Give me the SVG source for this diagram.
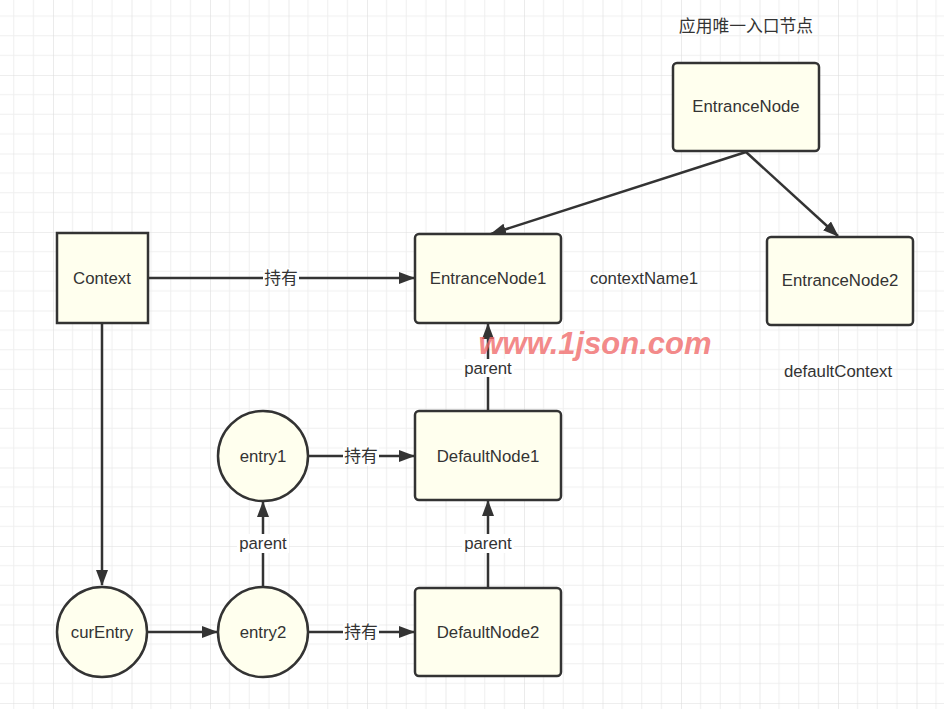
<svg xmlns="http://www.w3.org/2000/svg" width="944" height="709" viewBox="0 0 944 709">
<style>
.node{fill:#ffffee;stroke:#333;stroke-width:2.5}
.t{font-family:"Liberation Sans",Arial,"Noto Sans CJK SC",sans-serif;font-size:16.8px;fill:#333;text-anchor:middle;dominant-baseline:central}
.c{stroke:#333;stroke-width:2.5;fill:none}
.lb{fill:#fff}
.wm{font-family:"Liberation Sans",Arial,sans-serif;font-size:31px;font-weight:bold;font-style:italic;fill:#f06a6a;fill-opacity:0.8;text-anchor:middle;dominant-baseline:central}
</style>
<defs>
<pattern id="grid" x="-25.5" y="-3.5" width="78.5" height="78.5" patternUnits="userSpaceOnUse">
<path d="M19.6 0V78.5M39.25 0V78.5M58.9 0V78.5M0 19.6H78.5M0 39.25H78.5M0 58.9H78.5" stroke="#efefef" stroke-width="1"/>
<path d="M0 0V78.5M0 0H78.5" stroke="#dedede" stroke-width="1.2"/>
</pattern>
<marker id="arr" viewBox="0 0 16 12" refX="15" refY="6" markerWidth="16" markerHeight="12" markerUnits="userSpaceOnUse" orient="auto">
<path d="M0 0L16 6L0 12Z" fill="#333"/>
</marker>
</defs>
<rect width="944" height="709" fill="#fff"/>
<rect width="944" height="709" fill="url(#grid)"/>

<g id="connectors">
<path class="c" d="M746 152L491 234" marker-end="url(#arr)"/>
<path class="c" d="M746 152L838 236" marker-end="url(#arr)"/>
<path class="c" d="M148 278H414" marker-end="url(#arr)"/>
<path class="c" d="M102 324V585" marker-end="url(#arr)"/>
<path class="c" d="M147 632H217" marker-end="url(#arr)"/>
<path class="c" d="M308 632H414" marker-end="url(#arr)"/>
<path class="c" d="M308 456H414" marker-end="url(#arr)"/>
<path class="c" d="M263 586V502" marker-end="url(#arr)"/>
<path class="c" d="M488 588V501" marker-end="url(#arr)"/>
<path class="c" d="M488 411V324" marker-end="url(#arr)"/>
<rect class="lb" x="263" y="268" width="36" height="20"/>
<text class="t" x="281" y="278">持有</text>
<rect class="lb" x="343" y="622" width="36" height="20"/>
<text class="t" x="361" y="632">持有</text>
<rect class="lb" x="343" y="446" width="36" height="20"/>
<text class="t" x="361" y="456">持有</text>
<rect class="lb" x="237" y="534" width="52" height="19"/>
<text class="t" x="263" y="543">parent</text>
<rect class="lb" x="462" y="534" width="52" height="19"/>
<text class="t" x="488" y="543">parent</text>
<rect class="lb" x="462" y="359" width="52" height="18"/>
<text class="t" x="488" y="368">parent</text>
</g>

<g id="EntranceNode"><rect class="node" x="673" y="63" width="146" height="88" rx="4"/><text class="t" x="746" y="106">EntranceNode</text></g>
<g id="Context"><rect class="node" x="57" y="233" width="91" height="90"/><text class="t" x="102" y="278">Context</text></g>
<g id="EntranceNode1"><rect class="node" x="415" y="234" width="146" height="89" rx="4"/><text class="t" x="488" y="278">EntranceNode1</text></g>
<g id="EntranceNode2"><rect class="node" x="767" y="237" width="146" height="88" rx="4"/><text class="t" x="840" y="280">EntranceNode2</text></g>
<g id="DefaultNode1"><rect class="node" x="415" y="411" width="146" height="89" rx="4"/><text class="t" x="488" y="456">DefaultNode1</text></g>
<g id="DefaultNode2"><rect class="node" x="415" y="588" width="146" height="88" rx="4"/><text class="t" x="488" y="632">DefaultNode2</text></g>
<g id="entry1"><circle class="node" cx="263" cy="456" r="45"/><text class="t" x="263" y="456">entry1</text></g>
<g id="curEntry"><circle class="node" cx="102" cy="632" r="45"/><text class="t" x="102" y="632">curEntry</text></g>
<g id="entry2"><circle class="node" cx="263" cy="632" r="45"/><text class="t" x="263" y="632">entry2</text></g>

<text class="t" x="746" y="26">应用唯一入口节点</text>
<text class="t" x="644" y="278">contextName1</text>
<text class="t" x="838" y="371">defaultContext</text>
<text class="wm" x="595" y="343">www.1json.com</text>
</svg>
